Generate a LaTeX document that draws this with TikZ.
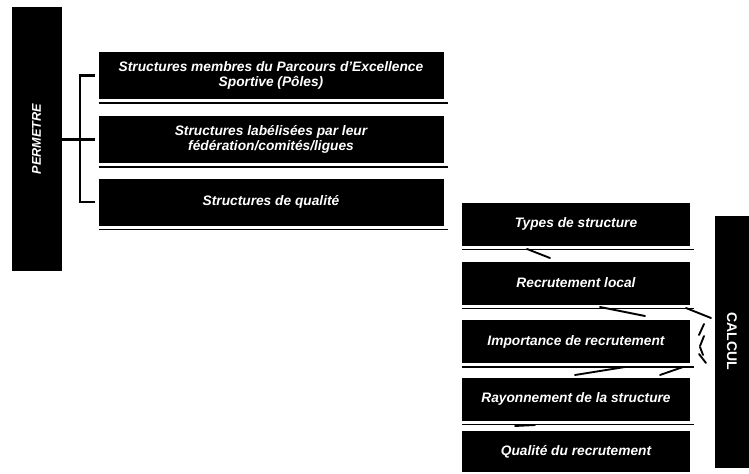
\documentclass[tikz,border=0pt]{standalone}
\usepackage{fontspec}
\setmainfont{Liberation Sans}
\tikzset{every picture/.style={line width=0.75pt}}
\tikzset{
  blackbox/.style={draw=black, fill=black, text=white, inner sep=0.75pt, align=center,
    font=\fontsize{10.3}{11.5}\selectfont\bfseries\itshape},
  leftbox/.style={blackbox, minimum width=258pt, minimum height=34.5pt},
  rightbox/.style={blackbox, minimum width=170.25pt, minimum height=31.5pt},
  sidebar/.style={blackbox, font=\fontsize{9.5}{11}\selectfont\bfseries\itshape},
  sepline/.style={line width=0.9pt},
  bracketline/.style={line width=1.6pt},
  strokemark/.style={line width=1.4pt, line cap=round}
}

\begin{document}
\begin{tikzpicture}[x=0.75pt,y=0.75pt,yscale=-1,xscale=1]
\useasboundingbox (0,0) rectangle (749,474);

%Side bars
\node [sidebar, rotate=90, minimum width=196.5pt, minimum height=36.75pt] (perm) at (36.5,139) {PERMETRE};
\node [sidebar, rotate=-90, minimum width=188.25pt, minimum height=25.5pt,
  font=\fontsize{10.5}{12}\selectfont\bfseries] (calc) at (732,341.5) {CALCUL};

%Perimeter boxes
\node [leftbox] (pes) at (271,75.5) {Structures membres du Parcours d'Excellence\\Sportive (Pôles)};
\node [leftbox] (lab) at (271,139.5) {Structures labélisées par leur\\fédération/comités/ligues};
\node [leftbox] (qua) at (271,202) {Structures de qualité};

%Calcul boxes
\node [rightbox] (typ) at (576,224) {Types de structure};
\node [rightbox] (loc) at (576,283) {Recrutement local};
\node [rightbox] (imp) at (576,341.5) {Importance de recrutement};
\node [rightbox] (ray) at (576,399) {Rayonnement de la structure};
\node [rightbox, minimum height=30pt] (qrc) at (576,451.5) {Qualité du recrutement};

%Bracket
\coordinate (brk) at (80,139.5);
\draw [bracketline] (perm.south |- brk) -- ([xshift=-3pt]lab.west);
\draw [bracketline] ([xshift=-3pt]pes.west) -| (brk) |- ([xshift=-3pt]qua.west);

%Separator lines
\foreach \b in {pes,lab,qua,typ,loc,imp,ray} {
  \draw [sepline] ([yshift=3pt]\b.south west) -- ([yshift=3pt,xshift=3pt]\b.south east);
}

%Strokes
\draw [strokemark] (527,249) -- (550,258);
\draw [strokemark] (600,307) -- (645,316);
\draw [strokemark] (686,308) -- (711,318);
\draw [strokemark] (575,375) -- (625,367);
\draw [strokemark] (660,375) -- (683,367);
\draw [strokemark] (515,426) -- (535,425);
\draw [strokemark] (704,324) -- (699,335);
\draw [strokemark] (704,336) -- (700,346);
\draw [strokemark] (700,347) -- (703,355);
\draw [strokemark] (699,354) -- (706,363);
\end{tikzpicture}
\end{document}
